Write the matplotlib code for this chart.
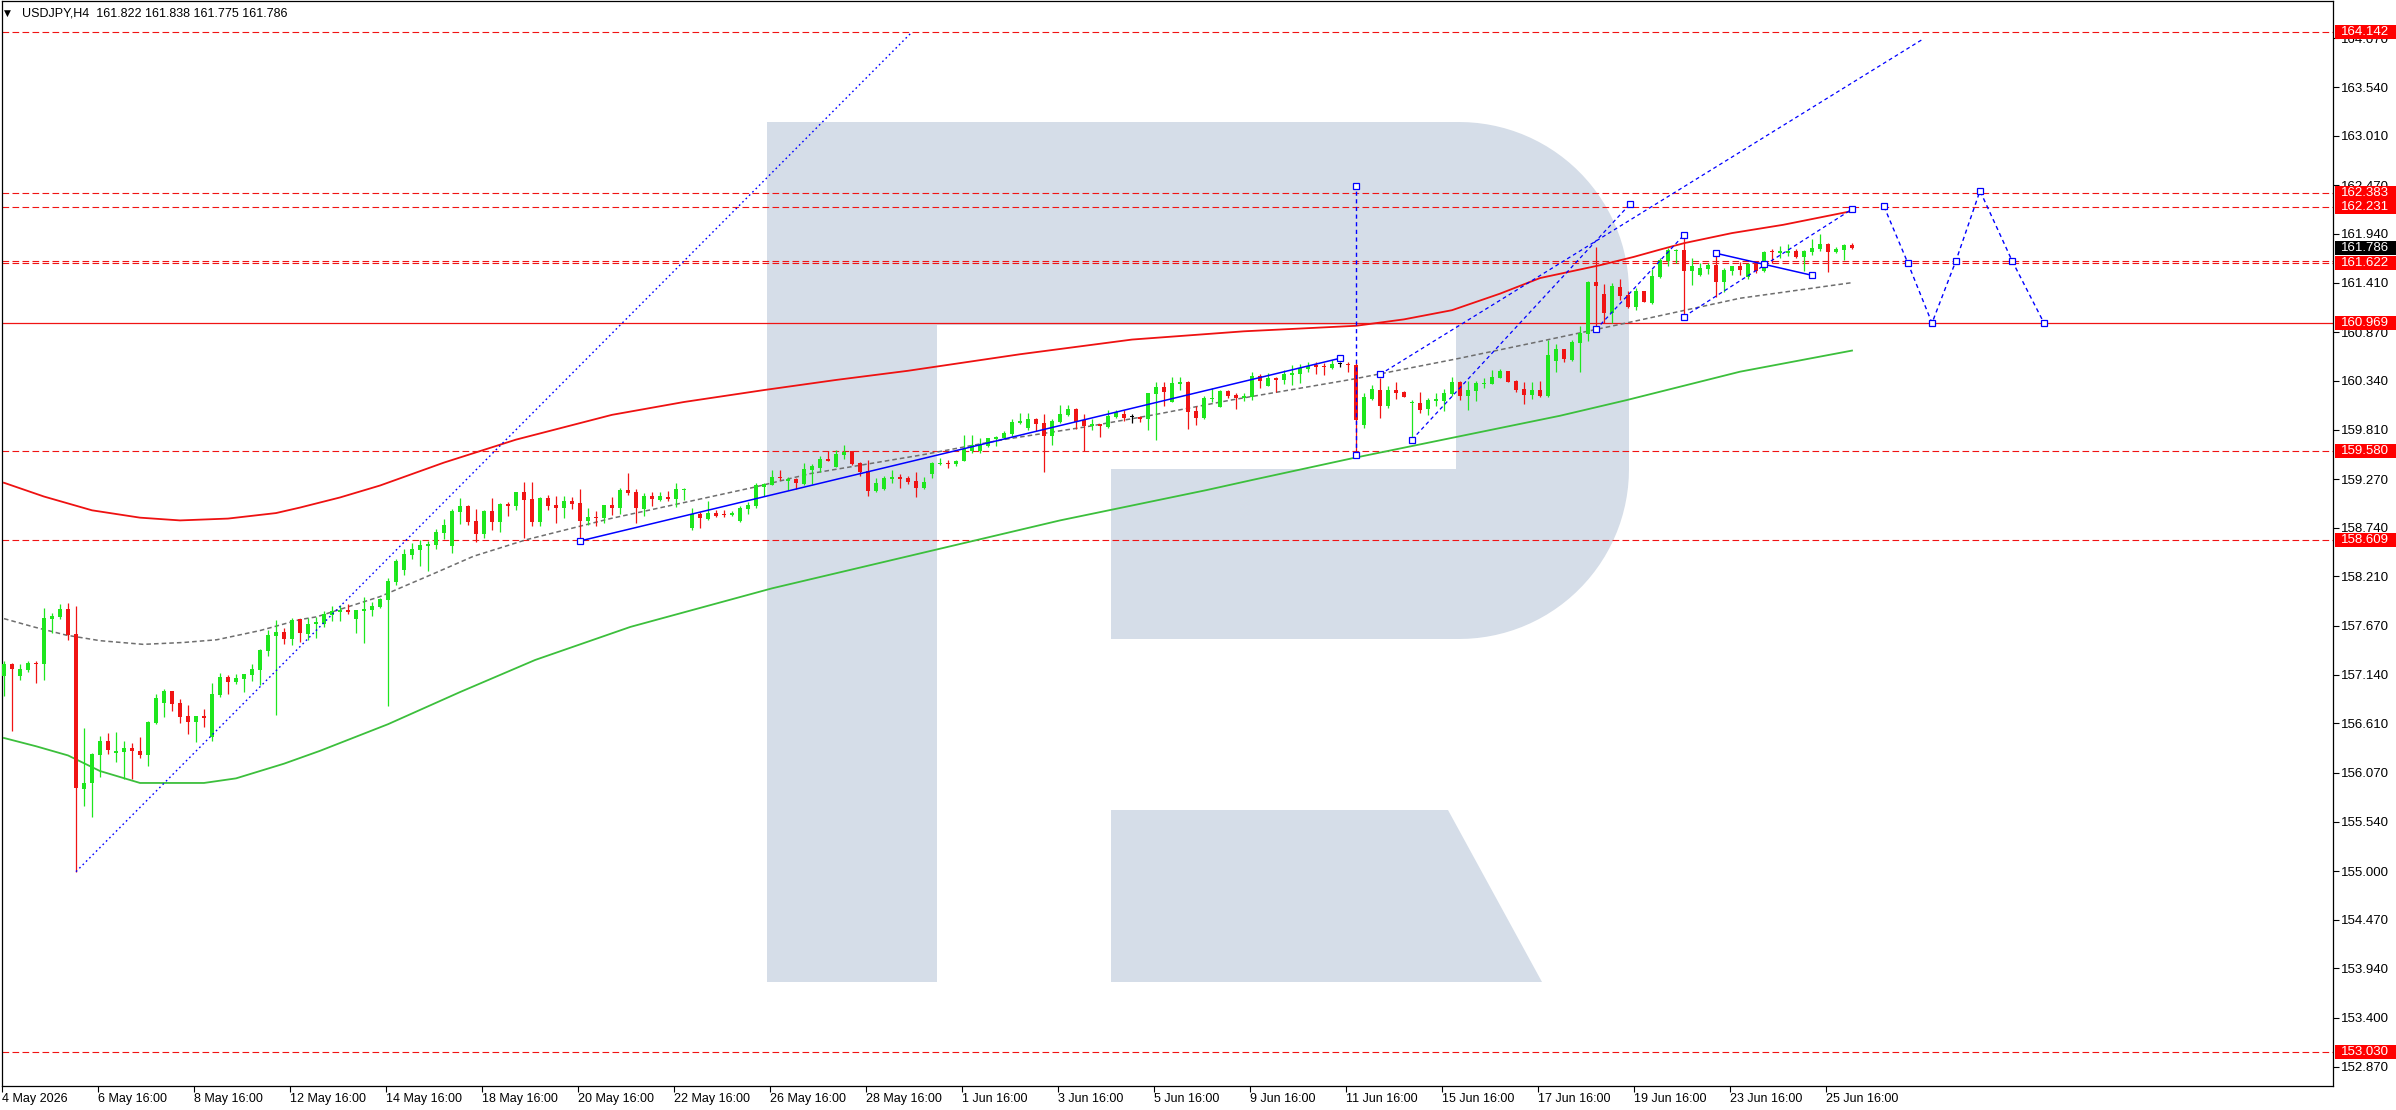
import matplotlib
matplotlib.use("Agg")
import numpy as np
import matplotlib.pyplot as plt
import matplotlib.transforms as mtransforms
from matplotlib.patches import Polygon, Rectangle

plt.rcParams['font.family'] = ['Liberation Sans', 'DejaVu Sans']

# ---- H4 candles USDJPY, bar 0 = 4 May, last = 26 Jun 04:00
bar_open = [
    157.12, 157.256, 157.129, 157.194, 157.270, 157.26, 157.75, 157.771, 157.855, 157.583,
    155.898, 155.963, 156.268, 156.414, 156.29, 156.297, 156.341, 156.305, 156.268, 156.613,
    156.831, 156.962, 156.831, 156.69, 156.628, 156.693, 156.464, 156.915, 157.114, 157.063,
    157.093, 157.136, 157.194, 157.398, 157.565, 157.605, 157.528, 157.746, 157.583, 157.695,
    157.695, 157.793, 157.822, 157.844, 157.746, 157.837, 157.844, 157.877, 157.953, 158.149,
    158.284, 158.443, 158.498, 158.545, 158.552, 158.683, 158.541, 158.912, 158.977, 158.814,
    158.676, 158.923, 158.806, 158.999, 158.981, 159.13, 159.053, 158.806, 159.064, 158.988,
    158.955, 159.031, 159.01, 158.817, 158.857, 158.85, 158.988, 158.955, 159.151, 159.129,
    158.944, 159.085, 159.042, 159.075, 159.053, 159.154, 158.737, 158.893, 158.835, 158.9,
    158.893, 158.878, 158.813, 158.944, 158.98, 159.187, 159.205, 159.292, 159.249, 159.271,
    159.216, 159.369, 159.391, 159.489, 159.401, 159.532, 159.576, 159.445, 159.358, 159.14,
    159.162, 159.271, 159.292, 159.282, 159.249, 159.173, 159.329, 159.434, 159.445, 159.438,
    159.471, 159.576, 159.576, 159.63, 159.707, 159.717, 159.761, 159.881, 159.826, 159.924,
    159.881, 159.739, 159.892, 159.968, 160.033, 159.914, 159.848, 159.87, 159.837, 159.946,
    159.979, 159.946, 159.946, 159.924, 160.197, 160.273, 160.11, 160.306, 160.327, 160.011,
    159.935, 160.142, 160.055, 160.229, 160.186, 160.153, 160.164, 160.393, 160.284, 160.371,
    160.349, 160.404, 160.415, 160.469, 160.513, 160.502, 160.48, 160.524, 160.524, 160.516,
    159.859, 160.142, 160.24, 160.066, 160.24, 160.219, 160.099, 160.099, 160.033, 160.12,
    160.12, 160.197, 160.327, 160.175, 160.23, 160.306, 160.306, 160.371, 160.447, 160.338,
    160.251, 160.186, 160.24, 160.175, 160.556, 160.687, 160.567, 160.752, 160.85, 161.42,
    161.286, 161.079, 161.362, 161.275, 161.144, 161.319, 161.188, 161.471, 161.645, 161.754,
    161.765, 161.536, 161.493, 161.558, 161.602, 161.417, 161.536, 161.591, 161.471, 161.624,
    161.536, 161.754, 161.732, 161.732, 161.754, 161.689, 161.743, 161.776, 161.831, 161.743,
    161.765, 161.822,
]
bar_high = [
    157.29, 157.267, 157.256, 157.289, 157.292, 157.866, 157.815, 157.91, 157.92, 157.891,
    156.559, 156.29, 156.475, 156.504, 156.515, 156.414, 156.395, 156.461, 156.639, 156.93,
    156.987, 156.962, 156.875, 156.81, 156.69, 156.766, 157.049, 157.158, 157.136, 157.147,
    157.147, 157.256, 157.419, 157.626, 157.735, 157.648, 157.757, 157.746, 157.757, 157.768,
    157.83, 157.888, 157.895, 157.906, 157.841, 157.986, 157.928, 157.975, 158.193, 158.403,
    158.509, 158.574, 158.607, 158.596, 158.723, 158.835, 158.944, 159.061, 158.988, 158.944,
    158.934, 159.064, 159.01, 159.021, 159.13, 159.238, 159.238, 159.075, 159.097, 159.086,
    159.086, 159.071, 159.162, 158.955, 158.922, 158.988, 159.075, 159.173, 159.34, 159.162,
    159.114, 159.133, 159.129, 159.14, 159.227, 159.169, 158.955, 158.911, 159.031, 158.933,
    158.933, 158.922, 158.976, 159.024, 159.227, 159.227, 159.369, 159.369, 159.292, 159.281,
    159.445, 159.434, 159.521, 159.576, 159.587, 159.641, 159.576, 159.456, 159.478, 159.282,
    159.303, 159.369, 159.325, 159.303, 159.347, 159.292, 159.456, 159.5, 159.478, 159.478,
    159.75, 159.75, 159.717, 159.717, 159.739, 159.794, 159.924, 159.99, 159.99, 159.935,
    159.979, 159.924, 160.077, 160.077, 160.044, 159.979, 159.924, 159.87, 160.022, 160.022,
    160.022, 159.979, 159.957, 160.208, 160.327, 160.327, 160.382, 160.382, 160.338, 160.066,
    160.175, 160.262, 160.24, 160.24, 160.208, 160.208, 160.436, 160.415, 160.426, 160.382,
    160.458, 160.513, 160.524, 160.545, 160.545, 160.534, 160.567, 160.545, 160.545, 160.534,
    160.208, 160.295, 160.371, 160.28, 160.327, 160.23, 160.131, 160.219, 160.153, 160.208,
    160.251, 160.382, 160.338, 160.338, 160.338, 160.371, 160.458, 160.469, 160.447, 160.349,
    160.327, 160.327, 160.338, 160.785, 160.742, 160.687, 160.785, 160.937, 161.431, 161.802,
    161.395, 161.406, 161.449, 161.319, 161.351, 161.319, 161.558, 161.678, 161.787, 161.776,
    161.896, 161.678, 161.624, 161.624, 161.732, 161.569, 161.591, 161.634, 161.624, 161.645,
    161.754, 161.776, 161.809, 161.83, 161.776, 161.765, 161.885, 161.94, 161.842, 161.798,
    161.831, 161.838,
]
bar_low = [
    156.91, 156.53, 157.082, 157.172, 157.053, 157.085, 157.59, 157.75, 157.517, 154.994,
    155.709, 155.593, 156.029, 156.279, 156.188, 156.0, 156.003, 156.228, 156.149, 156.602,
    156.682, 156.748, 156.617, 156.494, 156.406, 156.573, 156.421, 156.9, 156.933, 157.042,
    156.951, 157.074, 157.027, 157.343, 156.70, 157.474, 157.463, 157.496, 157.517, 157.539,
    157.663, 157.728, 157.724, 157.804, 157.59, 157.481, 157.782, 157.862, 156.80, 158.12,
    158.229, 158.4, 158.323, 158.269, 158.512, 158.614, 158.465, 158.785, 158.774, 158.589,
    158.632, 158.719, 158.697, 158.872, 158.937, 158.632, 158.759, 158.763, 158.933, 158.792,
    158.85, 158.944, 158.596, 158.77, 158.763, 158.796, 158.879, 158.89, 159.097, 158.795,
    158.871, 158.973, 159.027, 159.035, 158.969, 159.042, 158.715, 158.737, 158.824, 158.86,
    158.86, 158.868, 158.802, 158.893, 158.958, 159.085, 159.205, 159.26, 159.151, 159.162,
    159.205, 159.216, 159.347, 159.467, 159.401, 159.489, 159.423, 159.303, 159.085, 159.129,
    159.151, 159.227, 159.173, 159.216, 159.075, 159.162, 159.285, 159.423, 159.394, 159.416,
    159.471, 159.554, 159.554, 159.619, 159.634, 159.707, 159.739, 159.87, 159.805, 159.794,
    159.347, 159.641, 159.881, 159.957, 159.815, 159.576, 159.805, 159.728, 159.826, 159.935,
    159.903, 159.881, 159.892, 159.805, 159.696, 160.066, 160.11, 160.24, 159.815, 159.859,
    159.924, 160.11, 160.055, 160.153, 160.033, 160.12, 160.135, 160.262, 160.284, 160.219,
    160.306, 160.295, 160.317, 160.436, 160.415, 160.404, 160.469, 160.491, 160.436, 159.543,
    159.826, 160.131, 159.935, 160.04, 160.142, 160.164, 159.732, 159.99, 159.968, 160.066,
    160.012, 160.175, 160.131, 160.023, 160.12, 160.262, 160.306, 160.371, 160.327, 160.219,
    160.088, 160.142, 160.164, 160.164, 160.436, 160.545, 160.556, 160.436, 160.774, 160.897,
    160.97, 160.97, 161.22, 161.133, 161.112, 161.199, 161.177, 161.46, 161.591, 161.624,
    161.014, 161.384, 161.482, 161.504, 161.253, 161.308, 161.493, 161.493, 161.449, 161.515,
    161.525, 161.624, 161.678, 161.70, 161.678, 161.536, 161.71, 161.754, 161.526, 161.732,
    161.656, 161.775,
]
bar_close = [
    157.26, 157.205, 157.202, 157.267, 157.260, 157.757, 157.779, 157.855, 157.575, 155.909,
    155.96, 156.279, 156.414, 156.323, 156.308, 156.341, 156.308, 156.268, 156.624, 156.886,
    156.962, 156.824, 156.682, 156.628, 156.69, 156.671, 156.929, 157.114, 157.06, 157.104,
    157.147, 157.202, 157.408, 157.572, 157.605, 157.528, 157.735, 157.594, 157.692, 157.713,
    157.801, 157.83, 157.841, 157.822, 157.841, 157.855, 157.888, 157.964, 158.16, 158.378,
    158.454, 158.509, 158.552, 158.563, 158.694, 158.77, 158.923, 158.977, 158.803, 158.676,
    158.923, 158.806, 158.999, 158.981, 159.13, 159.046, 158.806, 159.064, 158.981, 158.959,
    159.031, 159.002, 158.817, 158.857, 158.846, 158.988, 158.959, 159.151, 159.115, 158.958,
    159.085, 159.056, 159.085, 159.053, 159.162, 159.162, 158.889, 158.85, 158.9, 158.871,
    158.878, 158.904, 158.955, 158.991, 159.205, 159.216, 159.292, 159.281, 159.271, 159.227,
    159.38, 159.412, 159.489, 159.467, 159.543, 159.565, 159.434, 159.347, 159.14, 159.227,
    159.282, 159.292, 159.271, 159.242, 159.173, 159.238, 159.445, 159.445, 159.434, 159.467,
    159.598, 159.641, 159.652, 159.717, 159.728, 159.772, 159.892, 159.903, 159.924, 159.87,
    159.739, 159.903, 159.979, 160.033, 159.892, 159.848, 159.87, 159.848, 159.957, 160.0,
    159.935, 159.946, 159.924, 160.208, 160.273, 160.219, 160.317, 160.327, 160.0, 159.935,
    160.153, 160.153, 160.229, 160.175, 160.153, 160.175, 160.393, 160.338, 160.371, 160.349,
    160.415, 160.426, 160.48, 160.502, 160.491, 160.491, 160.524, 160.524, 160.513, 159.914,
    160.164, 160.251, 160.066, 160.24, 160.208, 160.164, 160.11, 160.023, 160.131, 160.142,
    160.208, 160.327, 160.175, 160.24, 160.317, 160.317, 160.382, 160.447, 160.327, 160.24,
    160.186, 160.24, 160.175, 160.622, 160.687, 160.578, 160.763, 160.861, 161.42, 161.377,
    161.079, 161.373, 161.264, 161.144, 161.319, 161.199, 161.482, 161.656, 161.765, 161.765,
    161.536, 161.591, 161.569, 161.602, 161.417, 161.547, 161.591, 161.547, 161.613, 161.536,
    161.743, 161.74, 161.754, 161.754, 161.689, 161.754, 161.787, 161.831, 161.743, 161.776,
    161.82, 161.786,
]

# ---- indicator lines (bar index, price)
upper_bars = [0, 5, 11, 17, 22, 28, 34, 37, 42, 47, 55, 64, 76, 85, 95, 104, 113, 127, 141, 155,
              169, 175, 181, 187, 192, 199.5, 203.7, 207, 210, 216, 222.4, 231]
upper_vals = [159.23, 159.08, 158.93, 158.85, 158.82, 158.84, 158.90, 158.96, 159.07, 159.20,
              159.45, 159.70, 159.97, 160.11, 160.24, 160.35, 160.45, 160.63, 160.79, 160.88,
              160.94, 161.01, 161.11, 161.29, 161.46, 161.60, 161.69, 161.77, 161.84, 161.95,
              162.04, 162.19]
lower_bars = [0, 4, 8, 12, 17, 25, 29, 35, 39.5, 48, 57, 66.4, 78.3, 96, 114, 132, 150.3, 156,
              168.7, 181.6, 194.5, 202.8, 217, 231]
lower_vals = [156.45, 156.36, 156.26, 156.09, 155.96, 155.96, 156.01, 156.17, 156.31, 156.60,
              156.95, 157.30, 157.66, 158.08, 158.45, 158.82, 159.15, 159.26, 159.50, 159.73,
              159.96, 160.13, 160.44, 160.67]
mid_bars = [0, 3.7, 7.8, 12, 17.4, 22.4, 26.6, 32, 37, 39.1, 47, 53.7, 58.7, 65.3, 75.8, 85.3, 93.7,
            100.8, 114.5, 124.9, 135.3, 143.7, 153.3, 168.7, 181.6, 192, 203.3, 217, 231]
mid_vals = [157.75, 157.66, 157.57, 157.51, 157.47, 157.49, 157.52, 157.62, 157.74, 157.77, 157.99,
            158.24, 158.43, 158.61, 158.84, 159.02, 159.18, 159.33, 159.53, 159.70, 159.84, 159.97,
            160.13, 160.36, 160.58, 160.77, 160.98, 161.24, 161.41]

# ---- horizontal levels
dashed_levels = [164.142, 162.383, 162.231, 161.642, 161.622, 159.580, 158.609, 153.030]
solid_level = 160.969
level_tags = [164.142, 162.383, 162.231, 161.622, 160.969, 159.580, 158.609, 153.030]
last_price = 161.786

# ---- analysis drawings
trend_dotted = ([9, 113.5], [154.994, 164.14])
channel_solid = ([72, 167], [158.596, 160.586])
spike_vertical = ([169, 169], [159.53, 162.46])
ray_long = ([172, 240], [160.41, 164.07])
ray_steep = ([176, 203.3], [159.70, 162.27])
ray_short = ([199, 210], [160.90, 161.93])
ray_last = ([210, 231], [161.04, 162.21])
wedge_solid = ([214, 220, 226], [161.73, 161.61, 161.49])
forecast_bars = [235, 238, 241, 244, 247, 251, 255]
forecast_vals = [162.24, 161.62, 160.97, 161.65, 162.41, 161.65, 160.97]

date_labels = ["4 May 2026", "6 May 16:00", "8 May 16:00", "12 May 16:00", "14 May 16:00",
               "18 May 16:00", "20 May 16:00", "22 May 16:00", "26 May 16:00", "28 May 16:00",
               "1 Jun 16:00", "3 Jun 16:00", "5 Jun 16:00", "9 Jun 16:00", "11 Jun 16:00",
               "15 Jun 16:00", "17 Jun 16:00", "19 Jun 16:00", "23 Jun 16:00", "25 Jun 16:00"]
price_ticks = [164.070, 163.540, 163.010, 162.470, 161.940, 161.410, 160.870, 160.340, 159.810,
               159.270, 158.740, 158.210, 157.670, 157.140, 156.610, 156.070, 155.540, 155.000,
               154.470, 153.940, 153.400, 152.870]

GREEN = '#1ee61e'
RED = '#f01414'
BLUE = '#0000ff'
LOGO = '#d5dde8'

W, H = 2396, 1110
fig = plt.figure(figsize=(W / 100, H / 100), dpi=100)
fig.patch.set_facecolor('white')
ax = fig.add_axes([2 / W, 24 / H, 2331 / W, 1085 / H])
ax.set_xlim(-0.25, 291.125)
ax.set_ylim(152.659, 164.478)


# watermark logo, drawn in image pixel coords
def to_fig(pts):
    return [(x / W, 1 - y / H) for x, y in pts]


def arc(cx, cy, r, a0, a1, n=30):
    t = np.radians(np.linspace(a0, a1, n))
    return list(zip(cx + r * np.cos(t), cy + r * np.sin(t)))


outline = [(767, 122), (1459, 122)] + arc(1459, 292, 170, -90, 0) + \
          arc(1459, 469, 170, 0, 90) + \
          [(1111, 639), (1111, 469), (1456, 469), (1456, 325), (937, 325), (937, 982), (767, 982)]
leg = [(1111, 810), (1448, 810), (1542, 982), (1111, 982)]
for shape in (outline, leg):
    ax.add_patch(Polygon(to_fig(shape), closed=True, facecolor=LOGO, edgecolor='none',
                         transform=fig.transFigure, zorder=0.5))

# levels
for lv in dashed_levels:
    ax.axhline(lv, color=RED, lw=0.8, ls=(0, (6, 3)), zorder=1)
ax.axhline(solid_level, color=RED, lw=0.9, zorder=1)

# indicator curves
ax.plot(upper_bars, upper_vals, color='#ee1111', lw=1.3, zorder=2)
ax.plot(lower_bars, lower_vals, color='#3cbf3c', lw=1.3, zorder=2)
ax.plot(mid_bars, mid_vals, color='#6e6e6e', lw=1.1, ls=(0, (3, 2)), zorder=2)

# candles
o = np.array(bar_open)
hi = np.array(bar_high)
lo = np.array(bar_low)
c = np.array(bar_close)
x = np.arange(len(o))
cols = np.where(c > o, GREEN, np.where(c < o, RED, 'black'))
ax.vlines(x, lo, hi, colors=cols, lw=0.9, zorder=3)
ax.bar(x, np.maximum(np.abs(c - o), 0.012), bottom=np.minimum(o, c), width=0.62,
       color=cols, lw=0, zorder=4)

# drawings
sq = dict(marker='s', ms=4.5, mfc='white', mec=BLUE, mew=0.9)
dash = (0, (3, 2.5))
ax.plot(*trend_dotted, color=BLUE, lw=1.0, ls=(0, (1.2, 2.2)), zorder=5)
ax.plot(*channel_solid, color=BLUE, lw=1.1, zorder=5, **sq)
ax.plot(*spike_vertical, color=BLUE, lw=1.0, ls=dash, zorder=5, **sq)
ax.plot(*ray_long, color=BLUE, lw=0.9, ls=dash, zorder=5)
ax.plot(ray_long[0][:1], ray_long[1][:1], ls='none', zorder=5, **sq)
ax.plot(*ray_steep, color=BLUE, lw=0.9, ls=dash, zorder=5, **sq)
ax.plot(*ray_short, color=BLUE, lw=0.9, ls=dash, zorder=5, **sq)
ax.plot(*ray_last, color=BLUE, lw=0.9, ls=dash, zorder=5, **sq)
ax.plot(*wedge_solid, color=BLUE, lw=1.1, zorder=5, **sq)
ax.plot(forecast_bars, forecast_vals, color=BLUE, lw=1.0, ls=dash, zorder=5, **sq)

# axes styling
for sp in ax.spines.values():
    sp.set_color('black')
    sp.set_linewidth(0.9)
ax.yaxis.tick_right()
ax.set_yticks(price_ticks)
ax.set_yticklabels([f"{v:.3f}" for v in price_ticks])
ax.tick_params(axis='y', direction='out', length=4, width=0.8, pad=2, labelsize=9.5, colors='black')
ax.set_xticks([12 * k - 0.25 for k in range(len(date_labels))])
ax.set_xticklabels(date_labels)
ax.tick_params(axis='x', direction='out', length=4, width=0.8, pad=1, labelsize=9, colors='black')
for lbl in ax.get_xticklabels():
    lbl.set_horizontalalignment('left')

# price tags on the right scale
blend = mtransforms.blended_transform_factory(fig.transFigure, ax.transData)
box_h = 14 / 91.8
for lv in level_tags:
    fig.add_artist(Rectangle((2335 / W, lv - box_h / 2), 61 / W, box_h, transform=blend,
                             facecolor='#ff0000', edgecolor='none', zorder=6))
    fig.text(2341 / W, lv, f"{lv:.3f}", transform=blend, color='white', fontsize=9.5,
             va='center', ha='left', zorder=7)
fig.add_artist(Rectangle((2335 / W, last_price - box_h / 2), 61 / W, box_h, transform=blend,
                         facecolor='black', edgecolor='none', zorder=6))
fig.text(2341 / W, last_price, f"{last_price:.3f}", transform=blend, color='white', fontsize=9.5,
         va='center', ha='left', zorder=7)

# header
fig.text(7 / W, 1 - 13 / H, '▼', family='DejaVu Sans', fontsize=6.5, va='center', ha='center')
fig.text(22 / W, 1 - 13 / H, 'USDJPY,H4  161.822 161.838 161.775 161.786', fontsize=9,
         va='center', ha='left', color='#000000')

fig.savefig('out.png', dpi=100, facecolor='white')
